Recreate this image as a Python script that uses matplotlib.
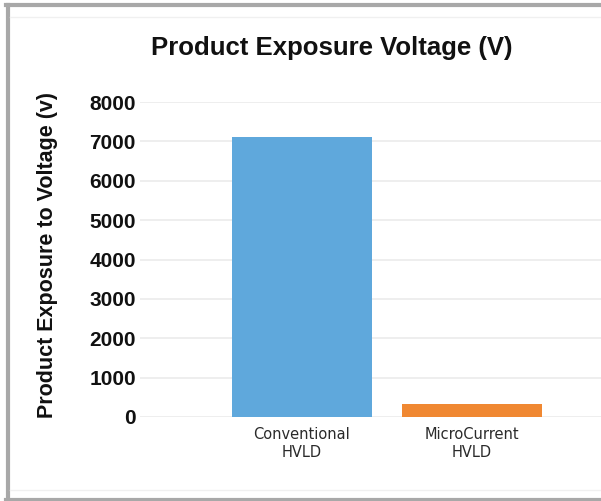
import matplotlib
matplotlib.use("Agg")
import matplotlib.pyplot as plt
from matplotlib.lines import Line2D

categories = ["Conventional\nHVLD", "MicroCurrent\nHVLD"]
values = [7100, 320]
colors = ["#5FA8DC", "#F08832"]
yticks = [0, 1000, 2000, 3000, 4000, 5000, 6000, 7000, 8000]

W, H = 601, 501
fig = plt.figure(figsize=(W / 100, H / 100), dpi=100)
fig.patch.set_facecolor("white")

# axes placement in pixels
left, right, top, bottom = 140, 601, 102, 417
ax = fig.add_axes([left / W, 1 - bottom / H, (right - left) / W, (bottom - top) / H])

x = list(range(len(categories)))
ax.bar(x, values, width=0.82, color=colors, zorder=3)
ax.set_xlim(-0.953, 1.759)
ax.set_ylim(0, 8000)
ax.set_yticks(yticks)
ax.set_yticklabels([str(t) for t in yticks], fontsize=15, fontweight="bold",
                   family="Liberation Sans", color="#111111")
ax.set_xticks(x)
ax.set_xticklabels(categories, fontsize=10.5, family="DejaVu Sans", color="#2a2a2a",
                   linespacing=1.3)
ax.tick_params(axis="both", length=0)
ax.tick_params(axis="y", pad=3)
ax.tick_params(axis="x", pad=7)
ax.grid(axis="y", color="#ebebeb", linewidth=1.2, zorder=0)
for s in ax.spines.values():
    s.set_visible(False)

fig.text(332 / W, 1 - 48 / H, "Product Exposure Voltage (V)", ha="center", va="center",
         fontsize=18.5, fontweight="bold", family="Liberation Sans", color="#111111")
fig.text(48 / W, 1 - 255 / H, "Product Exposure to Voltage (v)", ha="center", va="center",
         rotation=90, fontsize=15.5, fontweight="bold", family="Liberation Sans", color="#111111")

# frame
gray = "#a8a8a8"
fig.add_artist(Line2D([8 / W, 8 / W], [0, 1 - 5 / H], transform=fig.transFigure, color=gray, linewidth=3))
fig.add_artist(Line2D([6 / W, 1], [1 - 5 / H, 1 - 5 / H], transform=fig.transFigure, color=gray, linewidth=3))
fig.add_artist(Line2D([6 / W, 1], [1 - 499.5 / H, 1 - 499.5 / H], transform=fig.transFigure, color=gray, linewidth=3))
light = "#f0f0f0"
fig.add_artist(Line2D([10 / W, 1], [1 - 17 / H, 1 - 17 / H], transform=fig.transFigure, color=light, linewidth=1))
fig.add_artist(Line2D([10 / W, 1], [1 - 490 / H, 1 - 490 / H], transform=fig.transFigure, color=light, linewidth=1))

fig.savefig("out.png", dpi=100)
